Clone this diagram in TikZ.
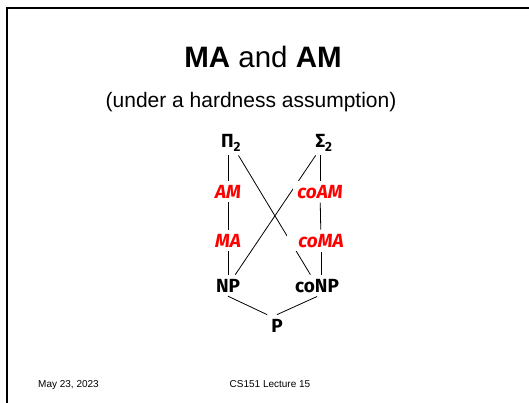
\documentclass[tikz,border=0pt]{standalone}
\usepackage{fontspec}
\setmainfont{Liberation Sans}
\newfontfamily\comicfont{Fira Sans}
\usepackage{tikz}
\usetikzlibrary{positioning}
\pgfdeclarelayer{bg}
\pgfsetlayers{bg,main}

\begin{document}
\begin{tikzpicture}[
    x=1pt,y=-1pt,
    cls/.style={font=\comicfont\bfseries\fontsize{19}{19}\selectfont,inner sep=4pt,anchor=base},
    rnd/.style={cls,font=\comicfont\bfseries\itshape\fontsize{19}{19}\selectfont,text=red,fill=white},
    slide/.style={inner sep=0pt,anchor=base},
    link/.style={draw=black,line width=0.8pt}
  ]
    \useasboundingbox (0,0) rectangle (529,403);
    \draw[line width=2pt] (7,404) -- (7,8) -- (530,8);
    \node[slide,font=\fontsize{29.5}{29.5}\selectfont] (title) at (263,68) {\textbf{MA} and \textbf{AM}};
    \node[slide,font=\fontsize{21}{21}\selectfont] (subtitle) at (251,108) {(under a hardness assumption)};
    \node[slide,anchor=base west,font=\fontsize{10}{10}\selectfont] (date) at (38,387) {May 23, 2023};
    \node[slide,font=\fontsize{10}{10}\selectfont] (course) at (270,387) {CS151 Lecture 15};
    \node[cls] (pi2) at (231,148) {Π\textsubscript{2}};
    \node[cls] (sigma2) at (324,148) {Σ\textsubscript{2}};
    \node[rnd] (am) at (228,198) {AM};
    \node[rnd] (coam) at (320,198) {coAM};
    \node[rnd] (ma) at (228,247) {MA};
    \node[rnd,inner xsep=11pt] (coma) at (321,247) {coMA};
    \node[cls] (np) at (228,292) {NP};
    \node[cls] (conp) at (317,292) {coNP};
    \node[cls] (p) at (277,332) {P};
    \begin{pgfonlayer}{bg}
    \draw[link] (am.north) -- (am.north |- pi2.south);
    \draw[link] (am) -- (ma);
    \draw[link] (ma) -- (np);
    \draw[link] (coam.north) -- (coam.north |- sigma2.south);
    \draw[link] (coam) -- (coma);
    \draw[link] (coma.south) -- (coma.south |- conp.north);
    \draw[link] (pi2) -- (conp);
    \draw[link] (sigma2) -- (np);
    \draw[link] (np.south) -- (p.north west);
    \draw[link] (conp.south) -- (p.north);
    \end{pgfonlayer}
  \end{tikzpicture}
\end{document}
